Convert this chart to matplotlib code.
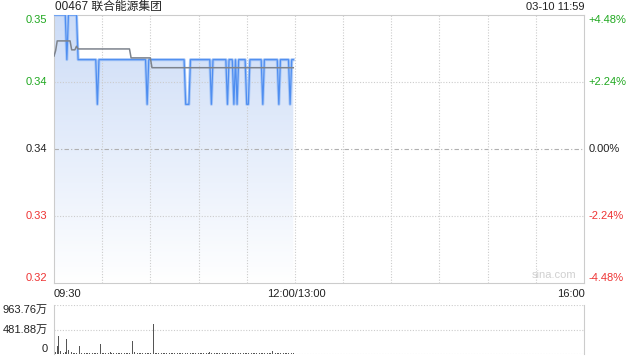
import matplotlib
matplotlib.use('Agg')
import matplotlib.pyplot as plt
import numpy as np
from matplotlib.colors import LinearSegmentedColormap

# 字体: 英文 Liberation Sans, 中文回退到 Noto Sans CJK
plt.rcParams['font.family'] = ['Liberation Sans', 'Noto Sans CJK SC']

# 股票信息
title = '00467 联合能源集团'
stamp = '03-10 11:59'
prev_close = 0.335

# 分时价格 (09:30 起每分钟)
price = [
    0.35, 0.35, 0.35, 0.35, 0.35, 0.35, 0.35, 0.35, 0.345, 0.35,
    0.35, 0.35, 0.35, 0.35, 0.35, 0.345, 0.345, 0.345, 0.345, 0.345,
    0.345, 0.345, 0.345, 0.345, 0.345, 0.345, 0.345, 0.34, 0.345, 0.345,
    0.345, 0.345, 0.345, 0.345, 0.345, 0.345, 0.345, 0.345, 0.345, 0.345,
    0.345, 0.345, 0.345, 0.345, 0.345, 0.345, 0.345, 0.345, 0.345, 0.345,
    0.345, 0.345, 0.345, 0.345, 0.345, 0.345, 0.345, 0.345, 0.34, 0.345,
    0.345, 0.345, 0.345, 0.345, 0.345, 0.345, 0.345, 0.345, 0.345, 0.345,
    0.345, 0.345, 0.345, 0.345, 0.345, 0.345, 0.345, 0.345, 0.345, 0.345,
    0.345, 0.345, 0.34, 0.34, 0.34, 0.345, 0.345, 0.345, 0.345, 0.345,
    0.345, 0.345, 0.345, 0.345, 0.345, 0.345, 0.345, 0.345, 0.34, 0.345,
    0.345, 0.345, 0.345, 0.345, 0.345, 0.345, 0.345, 0.345, 0.34, 0.345,
    0.345, 0.345, 0.34, 0.345, 0.34, 0.345, 0.345, 0.345, 0.345, 0.345,
    0.34, 0.34, 0.345, 0.345, 0.345, 0.345, 0.345, 0.345, 0.345, 0.345,
    0.34, 0.345, 0.345, 0.345, 0.345, 0.345, 0.345, 0.345, 0.345, 0.345,
    0.34, 0.345, 0.345, 0.345, 0.345, 0.345, 0.345, 0.34, 0.345, 0.345,
]

# 均价线
avg = [
    0.3454, 0.3460, 0.3471, 0.3471, 0.3471, 0.3471, 0.3471, 0.3471, 0.3471, 0.3471,
    0.3471, 0.3461, 0.3461, 0.3461, 0.3465, 0.3462, 0.3462, 0.3462, 0.3462, 0.3462,
    0.3462, 0.3462, 0.3462, 0.3462, 0.3462, 0.3462, 0.3462, 0.3462, 0.3462, 0.3462,
    0.3462, 0.3462, 0.3462, 0.3462, 0.3462, 0.3462, 0.3462, 0.3462, 0.3462, 0.3462,
    0.3462, 0.3462, 0.3462, 0.3462, 0.3462, 0.3462, 0.3462, 0.3462, 0.3452, 0.3452,
    0.3452, 0.3452, 0.3452, 0.3452, 0.3452, 0.3452, 0.3452, 0.3452, 0.3452, 0.3452,
    0.3452, 0.3441, 0.3441, 0.3441, 0.3441, 0.3441, 0.3441, 0.3441, 0.3441, 0.3441,
    0.3441, 0.3441, 0.3441, 0.3441, 0.3441, 0.3441, 0.3441, 0.3441, 0.3441, 0.3441,
    0.3441, 0.3441, 0.3441, 0.3441, 0.3441, 0.3441, 0.3441, 0.3441, 0.3441, 0.3441,
    0.3441, 0.3441, 0.3441, 0.3441, 0.3441, 0.3441, 0.3441, 0.3441, 0.3441, 0.3441,
    0.3441, 0.3441, 0.3441, 0.3441, 0.3441, 0.3441, 0.3441, 0.3441, 0.3441, 0.3441,
    0.3441, 0.3441, 0.3441, 0.3441, 0.3441, 0.3441, 0.3441, 0.3441, 0.3441, 0.3441,
    0.3441, 0.3441, 0.3441, 0.3441, 0.3441, 0.3441, 0.3441, 0.3441, 0.3441, 0.3441,
    0.3441, 0.3441, 0.3441, 0.3441, 0.3441, 0.3441, 0.3441, 0.3441, 0.3441, 0.3441,
    0.3441, 0.3441, 0.3441, 0.3441, 0.3441, 0.3441, 0.3441, 0.3441, 0.3441, 0.3441,
]

# 成交量 (万)
volume = [
    963.76, 40, 158, 356, 53, 25, 20, 30, 290, 73,
    139, 40, 22, 18, 25, 15, 158, 25, 20, 15,
    26, 20, 15, 53, 25, 15, 20, 25, 15, 191,
    20, 25, 15, 12, 20, 30, 15, 20, 25, 15,
    20, 15, 25, 12, 20, 15, 20, 25, 30, 257,
    30, 25, 20, 28, 15, 20, 25, 12, 20, 15,
    20, 15, 594, 25, 20, 15, 12, 20, 25, 15,
    15, 20, 12, 25, 15, 20, 15, 12, 20, 15,
    12, 20, 25, 15, 20, 12, 15, 20, 25, 15,
    20, 15, 25, 12, 20, 15, 20, 45, 15, 25,
    15, 20, 12, 25, 15, 20, 12, 15, 20, 25,
    15, 20, 25, 15, 20, 12, 15, 25, 20, 15,
    20, 12, 15, 25, 20, 15, 12, 20, 25, 15,
    20, 15, 25, 12, 20, 15, 65, 20, 15, 25,
    12, 20, 15, 25, 20, 15, 20, 12, 15, 20,
]

price_ticks = [0.35, 0.3425, 0.335, 0.3275, 0.32]
pct_labels = ['+4.48%', '+2.24%', '0.00%', '-2.24%', '-4.48%']
vol_ticks = [963.76, 481.88, 0]
vol_labels = ['963.76万', '481.88万', '0']

total_min = 330
x = np.arange(len(price))

green = '#1fa81f'
red = '#ee3333'
grid_c = '#cccccc'

fig = plt.figure(figsize=(6.4, 3.6), dpi=100)
W, H = 640, 360

def frac_box(l, t, r, b):
    return [l / W, 1 - b / H, (r - l) / W, (b - t) / H]

# 价格图
ax = fig.add_axes(frac_box(54, 15, 584, 283))
ymin, ymax = 0.32, 0.35

# 渐变填充
cmap = LinearSegmentedColormap.from_list('fill', ['#ffffff', '#ccdcf7'])
grad = np.linspace(1, 0, 256).reshape(-1, 1)
poly = ax.fill_between(x, price, ymin, color='none', lw=0)
im = ax.imshow(grad, extent=[0, total_min, ymin, ymax], aspect='auto',
               cmap=cmap, origin='upper', zorder=1)
im.set_clip_path(poly.get_paths()[0], transform=ax.transData)

ax.plot(x, price, color='#a9c8f7', lw=2.2, zorder=3)
ax.plot(x, price, color='#4f8ef0', lw=0.9, zorder=4)
ax.plot(x, avg, color='#7d838c', lw=1.1, zorder=5)

# 网格
for v in price_ticks[1:-1]:
    if v == prev_close:
        ax.axhline(v, color='#b0b0b0', lw=0.8, ls=(0, (4, 2, 1, 2)), zorder=2)
    else:
        ax.axhline(v, color=grid_c, lw=0.8, ls=(0, (1, 1.5)), zorder=2)
for m in range(30, total_min, 30):
    ax.axvline(m, color=grid_c, lw=0.8, ls=(0, (1, 1.5)), zorder=2)

ax.set_xlim(0, total_min)
ax.set_ylim(ymin, ymax)
ax.set_xticks([])
ax.set_yticks([])
for s in ax.spines.values():
    s.set_color('#cccccc')
    s.set_linewidth(0.8)

ax.text(0.985, 0.012, 'sina.com', transform=ax.transAxes, ha='right', va='bottom',
        fontsize=8, color='#d0d0d0')

# 左右刻度标签
colors = [green, green, '#222222', red, red]
vas = ['top', 'center', 'center', 'center', 'bottom']
for v, lab, c, va in zip(price_ticks, pct_labels, colors, vas):
    ax.text(-4, v, '%.2f' % v, ha='right', va=va, fontsize=8, color=c,
            transform=ax.transData, clip_on=False)
    ax.text(total_min + 3, v, lab, ha='left', va=va, fontsize=8, color=c,
            transform=ax.transData, clip_on=False)

# 标题与时间
fig.text(55 / W, 1 - 7 / H, title, ha='left', va='center', fontsize=8.5, color='#222222')
fig.text(584 / W, 1 - 7 / H, stamp, ha='right', va='center', fontsize=8, color='#222222')

# 时间轴标签
fig.text(54 / W, 1 - 294 / H, '09:30', ha='left', va='center', fontsize=8, color='#222222')
fig.text(296 / W, 1 - 294 / H, '12:00/13:00', ha='center', va='center', fontsize=8, color='#222222')
fig.text(585 / W, 1 - 294 / H, '16:00', ha='right', va='center', fontsize=8, color='#222222')

# 成交量图
axv = fig.add_axes(frac_box(54, 305, 584, 354))
axv.bar(np.arange(len(volume)), volume, width=0.5, color='#555555', zorder=3)
for v in vol_ticks:
    axv.axhline(v, color=grid_c, lw=0.8, ls=(0, (1, 1.5)), zorder=1)
axv.set_xlim(0, total_min)
axv.set_ylim(0, vol_ticks[0])
axv.set_xticks([])
axv.set_yticks([])
axv.spines['top'].set_visible(False)
axv.spines['bottom'].set_visible(False)
axv.spines['left'].set_color('#cccccc')
axv.spines['right'].set_color('#cccccc')
for v, lab, va in zip(vol_ticks, vol_labels, ['top', 'center', 'bottom']):
    axv.text(-4, v, lab, ha='right', va=va, fontsize=8, color='#222222',
             transform=axv.transData, clip_on=False)

fig.savefig('out.png', dpi=100)
